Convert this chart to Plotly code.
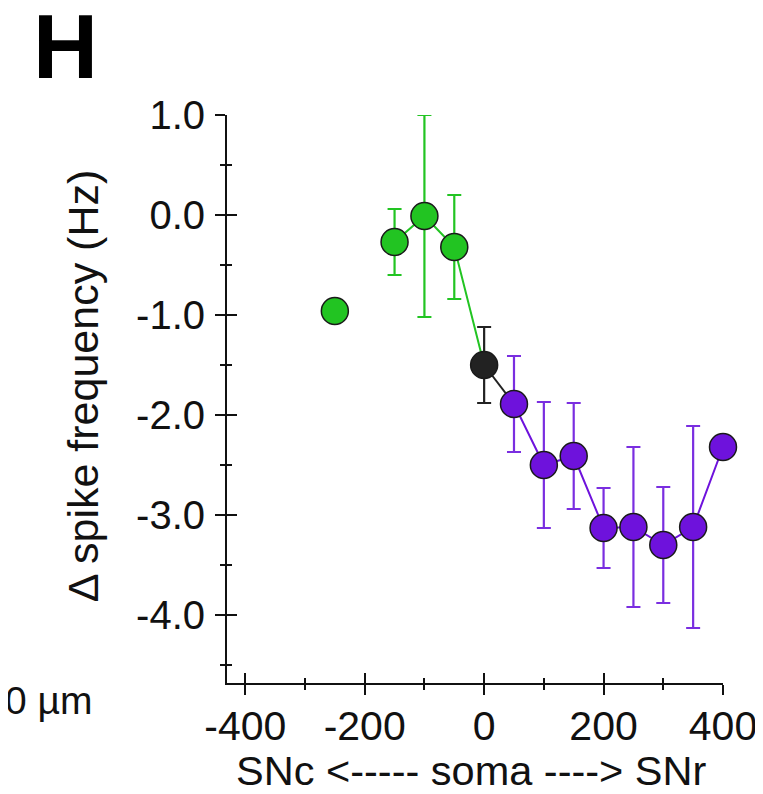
import plotly.graph_objects as go

# ---- data ----
green_x = [-250, -150, -100, -50]
green_y = [-0.96, -0.27, -0.01, -0.32]
green_sem = [0.0, 0.33, 1.01, 0.52]

soma_x = [0]
soma_y = [-1.50]
soma_sem = [0.38]

purple_x = [50, 100, 150, 200, 250, 300, 350, 400]
purple_y = [-1.89, -2.50, -2.41, -3.13, -3.12, -3.30, -3.12, -2.32]
purple_sem = [0.48, 0.63, 0.53, 0.40, 0.80, 0.58, 1.01, 0.0]

y_ticks = [-4.0, -3.0, -2.0, -1.0, 0.0, 1.0]
x_ticks = [-400, -200, 0, 200, 400]

# ---- styling ----
W, H = 763, 794
OFF = 8  # page body margin
L, R, T, B = 226.7 - OFF, 722.7 - OFF, 115 - OFF, 683 - OFF
GREEN = "#22c422"
PURPLE = "#6e12dc"
PURPLE_ERR = "#7a2ee0"
BLACK = "#222222"
EDGE = "#1a1a1a"
AX = "#111111"
FONT = "Liberation Sans, Arial, sans-serif"
MS = 27

def px_x(p):
    return (p - OFF - L) / (R - L)

def px_y(p):
    return (B - (p - OFF)) / (B - T)

fig = go.Figure()

# connecting lines
fig.add_trace(go.Scatter(x=green_x[1:] + soma_x, y=green_y[1:] + soma_y, mode="lines",
                         line=dict(color=GREEN, width=2), cliponaxis=False, showlegend=False))
fig.add_trace(go.Scatter(x=soma_x + purple_x[:1], y=soma_y + purple_y[:1], mode="lines",
                         line=dict(color=BLACK, width=2), cliponaxis=False, showlegend=False))
fig.add_trace(go.Scatter(x=purple_x, y=purple_y, mode="lines",
                         line=dict(color=PURPLE, width=2), cliponaxis=False, showlegend=False))

def pts(x, y, sem, fill, errc):
    return go.Scatter(
        x=x, y=y, mode="markers", cliponaxis=False, showlegend=False,
        marker=dict(size=MS, color=fill, line=dict(color=EDGE, width=1.5)),
        error_y=dict(type="data", array=sem, visible=True, color=errc, thickness=2.2, width=7),
    )

fig.add_trace(pts(green_x, green_y, green_sem, GREEN, GREEN))
fig.add_trace(pts(soma_x, soma_y, soma_sem, BLACK, BLACK))
fig.add_trace(pts(purple_x, purple_y, purple_sem, PURPLE, PURPLE_ERR))

# invisible trace on overlay axes (outward half of crossing ticks)
fig.add_trace(go.Scatter(x=[0], y=[0], xaxis="x2", yaxis="y2", mode="markers",
                         marker=dict(opacity=0, size=1), showlegend=False, hoverinfo="skip"))

xr = [-430.6, 400]
yr = [-4.68, 1.0]

common = dict(showgrid=False, zeroline=False, showline=True, linecolor=AX, linewidth=2,
              tickcolor=AX, tickwidth=2, fixedrange=True)

fig.update_layout(
    width=W, height=H,
    margin=dict(l=L, r=W - R, t=T, b=H - B, pad=0),
    paper_bgcolor="white", plot_bgcolor="white",
    font=dict(family=FONT, size=40, color=AX),
    xaxis=dict(range=xr, tickvals=x_ticks, ticktext=[str(v) for v in x_ticks],
               ticks="inside", ticklen=10, ticklabelstandoff=6,
               minor=dict(dtick=100, tick0=0, ticks="inside", ticklen=5, tickwidth=2, tickcolor=AX),
               tickfont=dict(size=41), **common),
    yaxis=dict(range=yr, tickvals=y_ticks, ticktext=[f"{v:.1f}" for v in y_ticks],
               ticks="inside", ticklen=10, ticklabelstandoff=12,
               minor=dict(dtick=0.5, tick0=0, ticks="inside", ticklen=5, tickwidth=2, tickcolor=AX),
               tickfont=dict(size=40), **common),
    xaxis2=dict(range=xr, overlaying="x", anchor="y2", side="bottom", tickvals=x_ticks,
                showticklabels=False, ticks="outside", ticklen=10,
                minor=dict(dtick=100, tick0=0, ticks="outside", ticklen=5, tickwidth=2, tickcolor=AX),
                **common),
    yaxis2=dict(range=yr, overlaying="y", anchor="x2", side="left", tickvals=y_ticks,
                showticklabels=False, ticks="outside", ticklen=10,
                minor=dict(dtick=0.5, tick0=0, ticks="outside", ticklen=5, tickwidth=2, tickcolor=AX),
                **common),
    annotations=[
        dict(text="<b>H</b>", xref="paper", yref="paper", x=px_x(65), y=px_y(47),
             xanchor="center", yanchor="middle", showarrow=False,
             font=dict(family=FONT, size=90, color="#000000")),
        dict(text="Δ spike frequency (Hz)", xref="paper", yref="paper", x=px_x(83), y=px_y(386),
             xanchor="center", yanchor="middle", textangle=-90, showarrow=False,
             font=dict(family=FONT, size=43)),
        dict(text="SNc &lt;----- soma ----&gt; SNr", xref="paper", yref="paper", x=px_x(471), y=px_y(770),
             xanchor="center", yanchor="middle", showarrow=False,
             font=dict(family=FONT, size=41.5)),
        dict(text="0 µm", xref="paper", yref="paper", x=px_x(94), y=px_y(700),
             xanchor="right", yanchor="middle", showarrow=False,
             font=dict(family=FONT, size=39)),
    ],
)

fig.write_html("out.html")
